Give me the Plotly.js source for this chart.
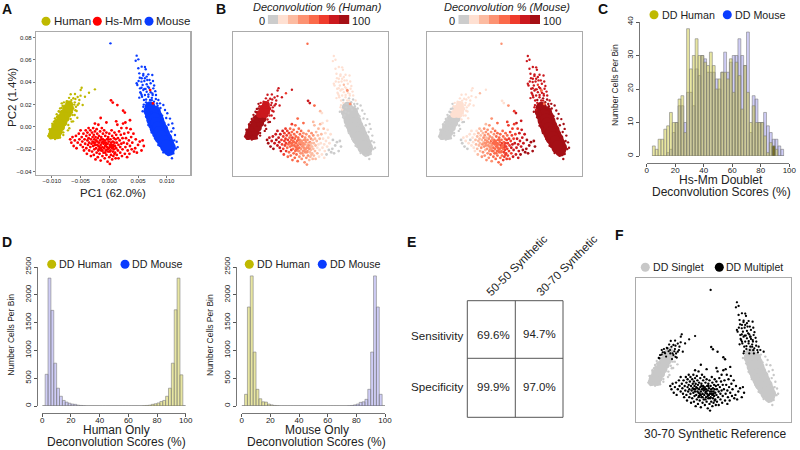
<!DOCTYPE html>
<html>
<head>
<meta charset="utf-8">
<script src="https://cdn.plot.ly/plotly-3.0.1.min.js"></script>
<style>html,body{margin:0;padding:0;background:#fff}</style>
</head>
<body>
<div id="chart" style="width:800px;height:450px"></div>
<script>
// PC coordinates are in thousandths

// dense middle of each singlet cloud
const humanCoreX = [-10,-9.1,-9.8,-8.8,-9.4,-8.4,-9.0,-8.0,-8.5,-7.6,-8.0,-7.2,-7.5,-6.9,-7.0];
const humanCoreY = [-7.5,-7.5,-4,-4,0,0,4,4,8,8,12,12,16,16,20];
const humanCorePct = [95,95,95,95,95,95,95,95,95,95,85,85,85,85,85];
const mouseCoreX = [7.1,6.9,8.0,7.2,8.3,7.4,8.6,7.7,8.9,8.0,9.3,8.4,9.6,8.8,10.0,9.3,10.3,9.8,10.6,10.4,7.6,7.9,8.1,8.4,8.7,9.1,9.5,9.9];
const mouseCoreY = [18,14,14,10,10,6,6,2,2,-2,-2,-6,-6,-10,-10,-14,-14,-18,-18,-21,12,8,4,0,-4,-8,-12,-16];

// loose points round the clouds
const humanX = [-4.81,-4.98,-2.5,-3.53,-4.23,-5.97,-6.72,-5.5,-6.26,-8.28,
  -7.3,-5.21,-4.63,-5.5,-7.7,-8.57,-5.68,-5.56,-6.37,-9.15,
  -8.69,-9.44,-6.54,-9.85,-6.95,-10.31,-10.6,-10.2,-9.44,-8.57,
  -8,-7.13,-6.26,-6.84,-8.11,-7.53,-8.86,-6.02,-6.72,-9.62,
  -8,-10.02,-5.0,-6.0,-7.0,-6.4,
  -5.9,-6.6,-7.1,-7.8,-8.3,-5.3,-6.1,-6.8,-7.4,-5.9,
  -6.5,-7.9,-9.1,-9.9,-10.4,-6.3,-7.2,-8.8,-9.7,-5.8];
const humanY = [35.1,33,33.6,30.6,27,29.5,29.2,26.8,25.6,21.1,
  22.6,24.1,19.6,19.6,18.1,16.6,14.3,8.3,10.7,11.3,
  13.7,7.7,4.8,1.8,-1.2,-4.2,-8,-10.1,-10.7,-9.5,
  -4.8,1.8,16.6,21.1,19,15.2,9.2,10.7,7.1,4.8,
  -7.2,-6.6,28,22,26,18,
  25,24,20,19,17,21,20,18,23,15,
  13,22,9,3,-2,5,-3,14,-8,18];
const humanPct = [82,78,80,70,80,76,84,78,82,92,
  84,80,78,80,84,94,80,82,84,94,
  94,94,90,94,90,94,94,94,94,94,
  92,90,78,84,86,84,94,82,86,94,
  92,94,78,80,82,80,
  80,82,84,86,90,78,80,82,84,82,
  84,86,94,94,94,88,92,92,94,80];

const mouseX = [4.76,5.05,4.59,5.05,5.63,6.2,6.33,5.22,5.92,6.79,
  7.48,5.63,6.2,6.61,4.76,4.88,5.8,6.5,7.19,5.34,
  5.92,6.5,7.08,7.66,5.63,6.2,6.79,7.54,5.22,8.12,
  6.03,7.08,7.77,8.53,8.82,5.92,9.4,9.69,10.09,10.56,
  10.96,11.14,11.43,11.72,11.6,11.14,10.27,9.4,8.53,7.95,
  7.37,6.79,6.38,5.6,6.1,6.7,7.2,7.8,5.4,6.4,
  7.4,8.0,6.0,6.9,7.5,8.1,5.8,6.6,7.3,8.4,
  0.2,11.9,10.9,
  5.3,5.9,6.5,7.0,5.1,5.6,6.1,6.9,7.6,5.5,
  6.3,6.8,7.4,8.3,5.7,6.4,7.0,7.7,6.2,6.8,
  7.9,8.9,9.2,9.9,10.3,10.8,11.3];
const mouseY = [63.7,60.4,59.2,52.4,53.9,53.6,51.5,47.9,47.3,47,
  46.4,43.5,43.5,42,39,37.5,37.5,38.1,39,34.5,
  33,31.5,33,34.5,28.6,28.6,27,28.6,26.2,28.6,
  24.1,24.1,22.6,24.1,21.1,18.1,19.6,15.2,12.2,7.5,
  3.2,-1.2,-7.2,-13.2,-19.2,-23.6,-25.1,-22.7,-16.2,-10.2,
  -4.9,1.7,9.2,40.5,41,36,31,37,31,24.5,
  26,32,20,18,30,25,14,11,13,19,
  74.7,-18,-28,
  44,46,45,42,41,35,34,35,41,30,
  34,29,24,21,27,22,21,18,16,14,
  16,17,10,8,2,-4,-12];
const mousePct = [15,20,15,20,15,15,15,15,20,15,
  15,20,15,15,20,15,15,30,15,20,
  15,15,30,15,15,20,15,15,20,15,
  15,15,5,15,5,15,5,5,3,3,
  3,3,3,3,3,5,3,3,3,3,
  3,3,3,15,15,15,20,15,15,5,
  5,15,15,5,15,5,5,3,3,3,
  55,3,5,
  15,15,20,15,15,20,15,15,15,15,
  15,20,15,5,15,15,5,5,15,5,
  5,3,3,3,3,3,3];

// Hs-Mm doublets
const mixX = [-6.8,-6.6,-6.4,-6.2,-6.0,-5.8,-5.7,-5.5,-5.3,-5.2,
  -5.0,-5.0,-4.8,-4.7,-4.6,-4.5,-4.4,-4.3,-4.2,-4.1,
  -4.0,-4.0,-3.9,-3.8,-3.8,-3.7,-3.6,-3.6,-3.5,-3.5,
  -3.4,-3.3,-3.3,-3.2,-3.2,-3.1,-3.0,-3.0,-2.9,-2.9,
  -2.8,-2.8,-2.7,-2.7,-2.6,-2.6,-2.5,-2.5,-2.4,-2.4,
  -2.3,-2.3,-2.2,-2.2,-2.1,-2.1,-2.0,-2.0,-1.9,-1.9,
  -1.8,-1.8,-1.7,-1.7,-1.6,-1.6,-1.5,-1.5,-1.4,-1.4,
  -1.3,-1.3,-1.2,-1.2,-1.1,-1.1,-1.0,-1.0,-0.9,-0.9,
  -0.8,-0.8,-0.7,-0.7,-0.6,-0.6,-0.5,-0.5,-0.4,-0.4,
  -0.3,-0.3,-0.2,-0.2,-0.1,-0.1,0.0,0.0,0.1,0.1,
  0.2,0.2,0.3,0.3,0.4,0.4,0.5,0.5,0.6,0.6,
  0.7,0.7,0.8,0.8,0.9,0.9,1.0,1.0,1.1,1.1,
  1.2,1.2,1.3,1.3,1.4,1.5,1.5,1.6,1.6,1.7,
  1.8,1.9,1.9,2.0,2.1,2.1,2.2,2.3,2.3,2.4,
  2.5,2.6,2.7,2.8,2.9,3.0,3.1,3.1,3.2,3.3,
  3.4,3.5,3.6,3.7,3.8,3.9,4.0,4.2,4.3,4.5,
  4.6,4.8,5.0,5.3,5.6,5.8,6.0,0.3,0.6,1.4,
  2.4,2.7,-2.5,-0.5,1.2,2.8,3.6,-1.5,7.6,7.1,
  -2.5,-1.8,-1.2,-0.6,0.1,0.7,-2.1,-1.4,-0.8,-0.2,
  0.4,-2.7,-1.9,-1.1,-0.3,0.5,-1.5,-0.7,0.1,0.9];
const mixY = [-11,-14,-9,-17,-12,-8,-19,-14,-6,-11,
  -16,-3,-9,-13,-18,-6,-21,-11,-15,-3,
  -8,-19,-24,-12,-5,-16,-1,-10,-21,-14,
  -7,-18,-3,-26,-11,-15,-5,-22,-9,-13,
  -1,-17,-7,-25,-11,-20,-4,-14,-29,-9,
  -19,-12,-2,-23,-16,-6,-10,-27,-21,2,
  -14,-8,-18,-24,-4,-12,-16,-30,-21,-9,
  -14,-1,-18,-26,-6,-11,-23,-15,-19,-3,
  -12,-28,-17,-8,-21,-14,-25,-5,-11,-18,
  -15,-31,-22,-9,-13,-19,-27,-6,-16,-33,
  -11,-21,-14,-25,-18,-3,-8,-29,-13,-22,
  -16,-26,-10,-20,-5,-14,-23,-17,-28,-11,
  -19,-7,-14,-25,2,-21,-10,-16,-28,-4,
  -12,-18,-23,-7,-15,-1,-26,-10,-20,3,
  -14,-6,-24,-18,-10,-1,-15,-27,-21,-5,
  -12,-24,-17,-2,-9,-20,-14,-6,-22,-19,
  -11,-23,-16,-13,-21,-12,-17,23.8,21.8,19.6,
  14.6,12.9,3,4,5,4,6,8,21,33,
  -16,-20,-21,-16,-22,-18,-13,-11,-14,-11,
  -16,-14,-17,-13,-20,-19,-19,-23,-18,-24];
const mixPct = [90,88,86,90,84,85,88,82,84,88,
  80,82,80,78,76,84,78,74,72,80,
  72,74,68,70,74,66,70,68,64,70,
  66,62,68,62,66,60,64,60,62,66,
  60,58,62,56,60,64,56,58,60,64,
  58,60,56,54,58,62,54,58,52,60,
  56,52,54,50,58,50,54,52,48,56,
  48,52,50,46,54,48,44,50,46,50,
  44,48,46,50,42,46,42,48,44,40,
  42,44,38,46,40,44,38,46,36,42,
  42,38,36,40,40,46,38,34,40,34,
  34,36,40,32,42,36,30,34,32,36,
  30,38,28,32,34,26,32,28,30,34,
  26,24,28,30,22,32,24,26,20,28,
  22,26,18,20,22,26,16,20,14,20,
  16,12,14,18,14,8,13,14,6,8,
  10,5,6,4,8,3,5,80,78,62,
  30,20,70,50,30,14,14,55,40,45,
  58,52,48,46,40,36,60,52,46,44,
  38,60,56,48,42,38,54,44,42,32];

// panel C, 2 point bins
const cBins = [5,7,9,11,13,15,17,19,21,23,25,27,29,31,33,35,37,39,41,43,45,47,49,
  51,53,55,57,59,61,63,65,67,69,71,73,75,77,79,81,83,85,87,89,91,93,95];
const cHuman = [3,2,5,5,8,9,13,10,10,17,18,7,38,26,30,35,30,30,28,27,31,27,20,
  23,25,25,23,29,19,28,24,14,27,19,10,15,10,10,10,6,1,4,3,2,0,0];
const cMouse = [0,0,0,0,0,1,2,7,10,15,15,10,19,19,15,26,24,30,29,25,25,25,23,
  20,25,31,25,28,30,30,35,30,27,37,7,18,17,10,10,13,9,7,5,5,3,2];

// panel D, 2 point bins
const dBins = [1,3,5,7,9,11,13,15,17,19,21,23,25,27,29,31,33,35,37,39,41,43,45,47,49,
  51,53,55,57,59,61,63,65,67,69,71,73,75,77,79,81,83,85,87,89,91,93,95,97,99];
const d1Mouse = [0,570,2300,1720,770,320,175,100,70,50,35,30,15,10,5,0,0,0,0,0,0,0,0,0,0,
  0,0,0,0,0,0,0,0,0,0,0,0,0,0,0,0,0,0,0,0,0,0,0,0,0];
const d1Human = [0,0,0,0,0,0,0,0,0,0,0,0,0,0,0,0,0,0,0,0,0,0,0,0,0,
  0,0,0,0,0,0,0,0,0,0,5,10,15,30,40,55,80,100,175,320,770,1730,2300,560,0];
const d2Human = [0,210,1780,2340,970,300,130,75,70,35,20,10,5,0,0,0,0,0,0,0,0,0,0,0,0,
  0,0,0,0,0,0,0,0,0,0,0,0,0,0,0,0,0,0,0,0,0,0,0,0,0];
const d2Mouse = [0,0,0,0,0,0,0,0,0,0,0,0,0,0,0,0,0,0,0,0,0,0,0,0,0,
  0,0,0,0,0,0,0,0,0,0,0,0,5,10,20,35,65,75,120,300,970,2340,1780,210,0];

// panel E
const tableCols = ['50-50 Synthetic','30-70 Synthetic'];
const tableRows = ['Sensitivity','Specificity'];
const tableVals = [['69.6%','94.7%'],['99.9%','97.0%']];

const legendSteps = [6,19,31,44,56,69,81,94];
const reds = ['#cccccc','#fee0d2','#fcbba1','#fc9272','#fb6a4a','#ef3b2c','#cb181d','#a50f15'];
const redScale = reds.flatMap((c,i) => [[i/8,c],[(i+1)/8,c]]);

const YELLOW = '#bfb900', RED = '#ff0000', BLUE = '#0a3cff', GREY = '#c8c8c8';
const FONT = '"Liberation Sans", Arial, sans-serif';
const INK = '#222';
const W = 800, H = 450;
const fx = p => p / W;
const fy = p => 1 - p / H;
const SMALL = 2.4;

const invert = a => a.map(v => 100 - v);
const traces = [];
const dots = (axis, x, y, size, color) => traces.push({
  type:'scatter', mode:'markers', x, y, xaxis:'x'+axis, yaxis:'y'+axis, hoverinfo:'skip',
  marker: Array.isArray(color)
    ? {size, color, cmin:0, cmax:100, colorscale:redScale, line:{width:0}}
    : {size, color, line:{width:0}}
});

// A
dots('', humanCoreX, humanCoreY, 8, YELLOW);
dots('', humanX, humanY, SMALL, YELLOW);
dots('', mouseCoreX, mouseCoreY, 11, BLUE);
dots('', mouseX, mouseY, SMALL, BLUE);
dots('', mixX, mixY, 2.8, RED);

// B, same points coloured by deconvolution share
[[2, a => a],[3, invert]].forEach(([ax, share]) => {
  dots(ax, mouseCoreX, mouseCoreY, 11, ax === 2 ? GREY : '#a50f15');
  dots(ax, humanCoreX, humanCoreY, 8, share(humanCorePct));
  dots(ax, mouseX, mouseY, SMALL, share(mousePct));
  dots(ax, humanX, humanY, SMALL, share(humanPct));
  dots(ax, mixX, mixY, 2.8, share(mixPct));
});

// F
const keep = (vals, y, min) => vals.filter((v,i) => y[i] >= min);
dots(4, humanCoreX, humanCoreY, 8, GREY);
dots(4, humanX, humanY, SMALL, GREY);
dots(4, mouseCoreX, mouseCoreY, 11, GREY);
dots(4, mouseX, mouseY, SMALL, GREY);
dots(4, mixX, mixY, 2.4, '#000');
dots(4, keep(humanX,humanY,13), keep(humanY,humanY,13), 2.2, '#000');
dots(4, keep(mouseX,mouseY,18), keep(mouseY,mouseY,18), 2.2, '#000');

const bars = (axis, x, y, color) => traces.push({
  type:'bar', x, y, width:2, xaxis:'x'+axis, yaxis:'y'+axis, hoverinfo:'skip',
  marker:{color, line:{color:'#808080', width:0.6}}
});
const BAR_Y = 'rgba(200,195,30,0.42)', BAR_B = 'rgba(70,60,220,0.26)';
bars(5, cBins, cMouse, BAR_B);
bars(5, cBins, cHuman, BAR_Y);
bars(5, [89], [3], 'rgba(90,80,0,0.75)');
bars(6, dBins, d1Mouse, BAR_B);
bars(6, dBins, d1Human, BAR_Y);
bars(7, dBins, d2Human, BAR_Y);
bars(7, dBins, d2Mouse, BAR_B);

// colour keys in panel B
[8,9].forEach(ax => traces.push({
  type:'heatmap', z:[legendSteps], xaxis:'x'+ax, yaxis:'y'+ax, zmin:0, zmax:100,
  colorscale:redScale, showscale:false, hoverinfo:'skip'
}));

const layout = {
  width:W, height:H, margin:{l:0,r:0,t:0,b:0}, showlegend:false, barmode:'overlay',
  paper_bgcolor:'#fff', plot_bgcolor:'rgba(0,0,0,0)', font:{family:FONT, color:INK},
  annotations:[], shapes:[]
};

const box = (id, l, t, r, b) => {
  const range = {x:[-12.75,14.09], y:[-42.9,85.1]};
  layout['xaxis'+id] = {domain:[fx(l),fx(r)], range:range.x, anchor:'y'+id, showgrid:false, zeroline:false,
    showline:true, mirror:true, linecolor:'#ababab', linewidth:1.2, showticklabels:false, ticks:''};
  layout['yaxis'+id] = {domain:[fy(b),fy(t)], range:range.y, anchor:'x'+id, showgrid:false, zeroline:false,
    showline:true, mirror:true, linecolor:'#ababab', linewidth:1.2, showticklabels:false, ticks:''};
};
box('',36,31.7,190.3,175);
box(2,232.7,32,387.7,175.7);
box(3,426.7,32,581.7,175.7);
box(4,636,278.3,790.7,421.7);
Object.assign(layout.xaxis, {ticks:'outside', ticklen:2, tickcolor:'#777', showticklabels:true, ticklabelstandoff:-2,
  tickvals:[-10,-5,0,5,10], ticktext:['\u22120.010','\u22120.005','0.000','0.005','0.010'],
  tickfont:{size:6, color:INK}});
Object.assign(layout.yaxis, {ticks:'outside', ticklen:2, tickcolor:'#777', showticklabels:true,
  tickvals:[-40,-20,0,20,40,60,80], ticktext:['\u22120.04','\u22120.02','0.00','0.02','0.04','0.06','0.08'],
  tickfont:{size:6, color:INK}});

// R style histogram axes, set apart from the bars
const hist = (id, x0, x1, yTop, yBase, xLineY, yLineX, yMax, yStep) => {
  const axisStyle = {showgrid:false, zeroline:false, showline:true, linecolor:'#555', linewidth:0.8,
    ticks:'outside', ticklen:3, tickcolor:'#555', tickfont:{size:8, color:INK}, anchor:'free'};
  layout['xaxis'+id] = Object.assign({}, axisStyle, {domain:[fx(x0),fx(x1)], range:[0,100], tick0:0, dtick:20,
    position:fy(xLineY), ticklabelstandoff:-3});
  layout['yaxis'+id] = Object.assign({}, axisStyle, {domain:[fy(yBase),fy(yTop)], range:[0,yMax], tick0:0, dtick:yStep,
    position:fx(yLineX), tickangle:-90});
};
hist(5, 646.7, 789.3, 22, 156, 162.7, 639.3, 40, 10);
hist(6, 42.3, 185.7, 267, 406, 412.7, 36.7, 2500, 500);
hist(7, 241.7, 385, 267, 406, 412.7, 236, 2500, 500);

const key = (id, l, r) => {
  layout['xaxis'+id] = {domain:[fx(l),fx(r)], visible:false, anchor:'y'+id};
  layout['yaxis'+id] = {domain:[fy(24.3),fy(15)], visible:false, anchor:'x'+id};
};
key(8, 267.7, 349.3);
key(9, 458.3, 540);

const text = (t, x, y, size, opts) => layout.annotations.push(Object.assign({
  text:t, x:fx(x), y:fy(y), xref:'paper', yref:'paper', showarrow:false, yanchor:'middle', xanchor:'center',
  font:{size, color:INK, family:FONT}, borderpad:0
}, opts || {}));
const dot = (x, y, color) => layout.shapes.push({
  type:'circle', xref:'paper', yref:'paper', x0:fx(x-4.5), x1:fx(x+4.5), y0:fy(y+4.5), y1:fy(y-4.5),
  fillcolor:color, line:{width:0}
});
const rule = (x0, y0, x1, y1) => layout.shapes.push({
  type:'line', xref:'paper', yref:'paper', x0:fx(x0), y0:fy(y0), x1:fx(x1), y1:fy(y1), line:{color:'#555', width:1}
});
const LEFT = {xanchor:'left'};

// panel letters
[['A',7,9],['B',221,9],['C',603,9],['D',7,242],['E',411,242],['F',619,235]].forEach(([t,x,y]) =>
  text('<b>'+t+'</b>', x, y, 14, {font:{size:14, color:'#111', family:FONT}}));

// A
dot(46,21.3,YELLOW); text('Human',52.7,21.3,11.5,LEFT);
dot(97.3,21.3,RED); text('Hs-Mm',103.7,21.3,11.5,LEFT);
dot(149,21.3,BLUE); text('Mouse',155,21.3,11.5,LEFT);
text('PC1 (62.0%)',113,193,11.5);
text('PC2 (1.4%)',12,97,11.5,{textangle:-90});

// B
text('<i>Deconvolution % (Human)</i>',317,7,11);
text('<i>Deconvolution % (Mouse)</i>',506.5,7,11);
text('0',261.7,20.7,11); text('100',361,20.7,11);
text('0',452.3,20.7,11); text('100',552.3,20.7,11);

// C
dot(654,14.7,YELLOW); text('DD Human',660.7,14.7,10.7,LEFT);
dot(727.3,14.7,BLUE); text('DD Mouse',734,14.7,10.7,LEFT);
text('Hs-Mm Doublet',721,179.8,12);
text('Deconvolution Scores (%)',721,192,12);
text('Number Cells Per Bin',615,85,8.5,{textangle:-90});

// D
dot(51.7,264.3,YELLOW); text('DD Human',58.3,264.3,10.7,LEFT);
dot(125,264.3,BLUE); text('DD Mouse',131,264.3,10.7,LEFT);
text('Human Only',116.7,430,12);
text('Deconvolution Scores (%)',116.7,442,12);
text('Number Cells Per Bin',10.7,335,8.5,{textangle:-90});
dot(249.3,264.3,YELLOW); text('DD Human',255.7,264.3,10.7,LEFT);
dot(322.3,264.3,BLUE); text('DD Mouse',328.7,264.3,10.7,LEFT);
text('Mouse Only',316.7,430,12);
text('Deconvolution Scores (%)',316.7,442,12);
text('Number Cells Per Bin',210,335,8.5,{textangle:-90});

// E
[[467.3,300.7,563,300.7],[467.3,358.3,563,358.3],[467.3,417.3,563,417.3],
 [467.3,300.7,467.3,417.3],[515.3,300.7,515.3,417.3],[563,300.7,563,417.3]].forEach(l => rule(...l));
text(tableCols[0],516,265,11.6,{textangle:-45});
text(tableCols[1],566,265,11.6,{textangle:-45});
text(tableRows[0],464,335.3,11.6,{xanchor:'right'});
text(tableRows[1],464,386.7,11.6,{xanchor:'right'});
text(tableVals[0][0],493.7,335.3,11.5);
text(tableVals[0][1],539.7,334,11.5);
text(tableVals[1][0],493.7,387.3,11.5);
text(tableVals[1][1],539.7,387.3,11.5);

// F
dot(645.3,267.3,GREY); text('DD Singlet',652,267.3,10.6,LEFT);
dot(719.3,267.3,'#000'); text('DD Multiplet',725,267.3,10.5,LEFT);
text('30-70 Synthetic Reference',715,434,12);

Plotly.newPlot('chart', traces, layout, {displayModeBar:false, staticPlot:true});
</script>
</body>
</html>
